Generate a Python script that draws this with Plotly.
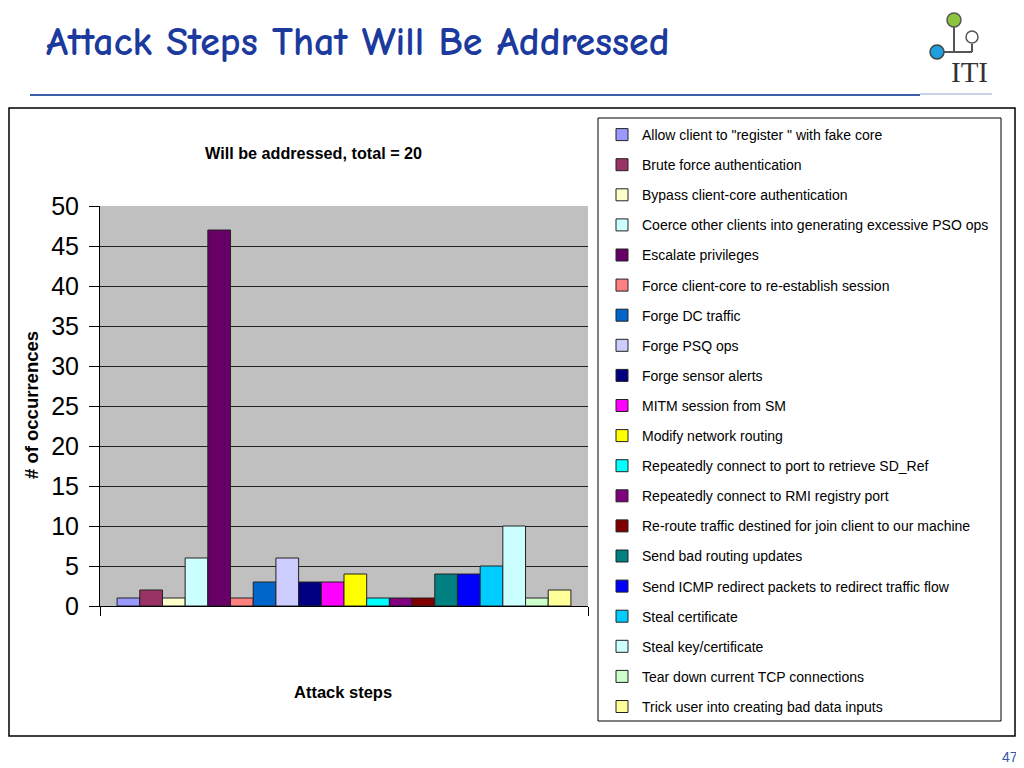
import plotly.graph_objects as go

# ---- data ----
steps = [
    'Allow client to "register " with fake core',
    'Brute force authentication',
    'Bypass client-core authentication',
    'Coerce other clients into generating excessive PSO ops',
    'Escalate privileges',
    'Force client-core to re-establish session',
    'Forge DC traffic',
    'Forge PSQ ops',
    'Forge sensor alerts',
    'MITM session from SM',
    'Modify network routing',
    'Repeatedly connect to port to retrieve SD_Ref',
    'Repeatedly connect to RMI registry port',
    'Re-route traffic destined for join client to our machine',
    'Send bad routing updates',
    'Send ICMP redirect packets to redirect traffic flow',
    'Steal certificate',
    'Steal key/certificate',
    'Tear down current TCP connections',
    'Trick user into creating bad data inputs',
]
occurrences = [1, 2, 1, 6, 47, 1, 3, 6, 3, 3, 4, 1, 1, 1, 4, 4, 5, 10, 1, 2]
colors = ['#9999FF', '#993366', '#FFFFCC', '#CCFFFF', '#660066', '#FF8080',
          '#0066CC', '#CCCCFF', '#000080', '#FF00FF', '#FFFF00', '#00FFFF',
          '#800080', '#800000', '#008080', '#0000FF', '#00CCFF', '#CCFFFF',
          '#CCFFCC', '#FFFF99']
y_ticks = [0, 5, 10, 15, 20, 25, 30, 35, 40, 45, 50]

# page has an 8px body margin; the figure is sized/offset to compensate
OFF = 8
W, H = 1024 - OFF, 768 - OFF
L, R, T, B = 100, 588, 206, 606  # plot area in window pixels


def px(x):
    return (x - L) / (R - L)


def py(y):
    return (B - y) / (B - T)


SANS = "Liberation Sans, Arial, sans-serif"

fig = go.Figure()
for i, (name, val, col) in enumerate(zip(steps, occurrences, colors)):
    fig.add_trace(go.Bar(
        x=[0], y=[val], name=name, legendgroup=f"g{i}",
        marker=dict(color=col, line=dict(color="#222222", width=1)),
        hovertemplate=name + ": %{y}<extra></extra>",
    ))

fig.update_layout(
    width=W, height=H,
    margin=dict(l=L - OFF, r=W - (R - OFF), t=T - OFF, b=H - (B - OFF), pad=0),
    paper_bgcolor="white",
    plot_bgcolor="#C0C0C0",
    barmode="group",
    bargap=0.07,
    bargroupgap=0,
    showlegend=True,
    legend=dict(
        x=px(602), y=py(119), xanchor="left", yanchor="top",
        bgcolor="rgba(0,0,0,0)",
        font=dict(family=SANS, size=14, color="black"),
        tracegroupgap=8.9,
        itemwidth=30,
        traceorder="grouped",
        maxheight=700,
    ),
    xaxis=dict(
        range=[-0.5, 0.5], tickvals=[-0.5, 0.5], showticklabels=False,
        ticks="outside", ticklen=9, tickcolor="black", tickwidth=1,
        showline=True, linecolor="black", linewidth=1,
        showgrid=False, zeroline=False, fixedrange=True,
    ),
    yaxis=dict(
        range=[0, 50], tickvals=y_ticks,
        ticks="outside", ticklen=10, tickcolor="black", tickwidth=1,
        tickfont=dict(family=SANS, size=25, color="black"),
        ticklabelstandoff=5,
        showline=True, linecolor="black", linewidth=1,
        showgrid=True, gridcolor="#222222", gridwidth=1,
        zeroline=False, fixedrange=True,
    ),
    font=dict(family=SANS),
)

shapes = [
    # outer chart frame
    dict(type="rect", xref="paper", yref="paper",
         x0=px(9), x1=px(1015), y0=py(108), y1=py(736),
         line=dict(color="black", width=1.5), layer="below"),
    # legend frame
    dict(type="rect", xref="paper", yref="paper",
         x0=px(598), x1=px(1001), y0=py(118), y1=py(721),
         line=dict(color="black", width=1), layer="below"),
    # title rule
    dict(type="line", xref="paper", yref="paper",
         x0=px(30), x1=px(920), y0=py(95), y1=py(95),
         line=dict(color="#3A5FA8", width=2)),
    dict(type="line", xref="paper", yref="paper",
         x0=px(920), x1=px(992), y0=py(94), y1=py(94),
         line=dict(color="#8FA8D0", width=1)),
    # logo lines
    dict(type="line", xref="paper", yref="paper",
         x0=px(954), x1=px(954), y0=py(26), y1=py(52),
         line=dict(color="#555555", width=2)),
    dict(type="line", xref="paper", yref="paper",
         x0=px(944), x1=px(972), y0=py(52), y1=py(52),
         line=dict(color="#555555", width=2)),
    dict(type="line", xref="paper", yref="paper",
         x0=px(972), x1=px(972), y0=py(44), y1=py(52),
         line=dict(color="#555555", width=2)),
    # logo circles
    dict(type="circle", xref="paper", yref="paper",
         x0=px(947), x1=px(961), y0=py(13), y1=py(27),
         fillcolor="#8CC63F", line=dict(color="#555555", width=1.5)),
    dict(type="circle", xref="paper", yref="paper",
         x0=px(966), x1=px(978), y0=py(31), y1=py(43),
         fillcolor="white", line=dict(color="#555555", width=1.5)),
    dict(type="circle", xref="paper", yref="paper",
         x0=px(930), x1=px(944), y0=py(45), y1=py(59),
         fillcolor="#1EA0E0", line=dict(color="#444444", width=1.5)),
]
fig.update_layout(shapes=shapes)

annotations = [
    dict(text="<b>Attack Steps That Will Be Addressed</b>",
         x=px(44), y=py(42), xanchor="left", yanchor="middle",
         font=dict(family="Comic Sans MS, Comic Neue, DejaVu Sans, sans-serif",
                   size=40, color="#1C3A9E")),
    dict(text="ITI", x=px(969), y=py(72), xanchor="center", yanchor="middle",
         font=dict(family="Liberation Serif, DejaVu Serif, serif", size=29, color="#333333")),
    dict(text="<b>Will be addressed, total = 20</b>",
         x=px(313), y=py(153), xanchor="center", yanchor="middle",
         font=dict(family=SANS, size=16.2, color="black")),
    dict(text="<b># of occurrences</b>", textangle=-90,
         x=px(31), y=py(405), xanchor="center", yanchor="middle",
         font=dict(family=SANS, size=18.5, color="black")),
    dict(text="<b>Attack steps</b>",
         x=px(343), y=py(692), xanchor="center", yanchor="middle",
         font=dict(family=SANS, size=16.5, color="black")),
    dict(text="47", x=px(1010), y=py(757), xanchor="center", yanchor="middle",
         font=dict(family=SANS, size=14, color="#3355AA")),
]
for a in annotations:
    a.update(xref="paper", yref="paper", showarrow=False)
fig.update_layout(annotations=annotations)

fig.write_html("out.html")
